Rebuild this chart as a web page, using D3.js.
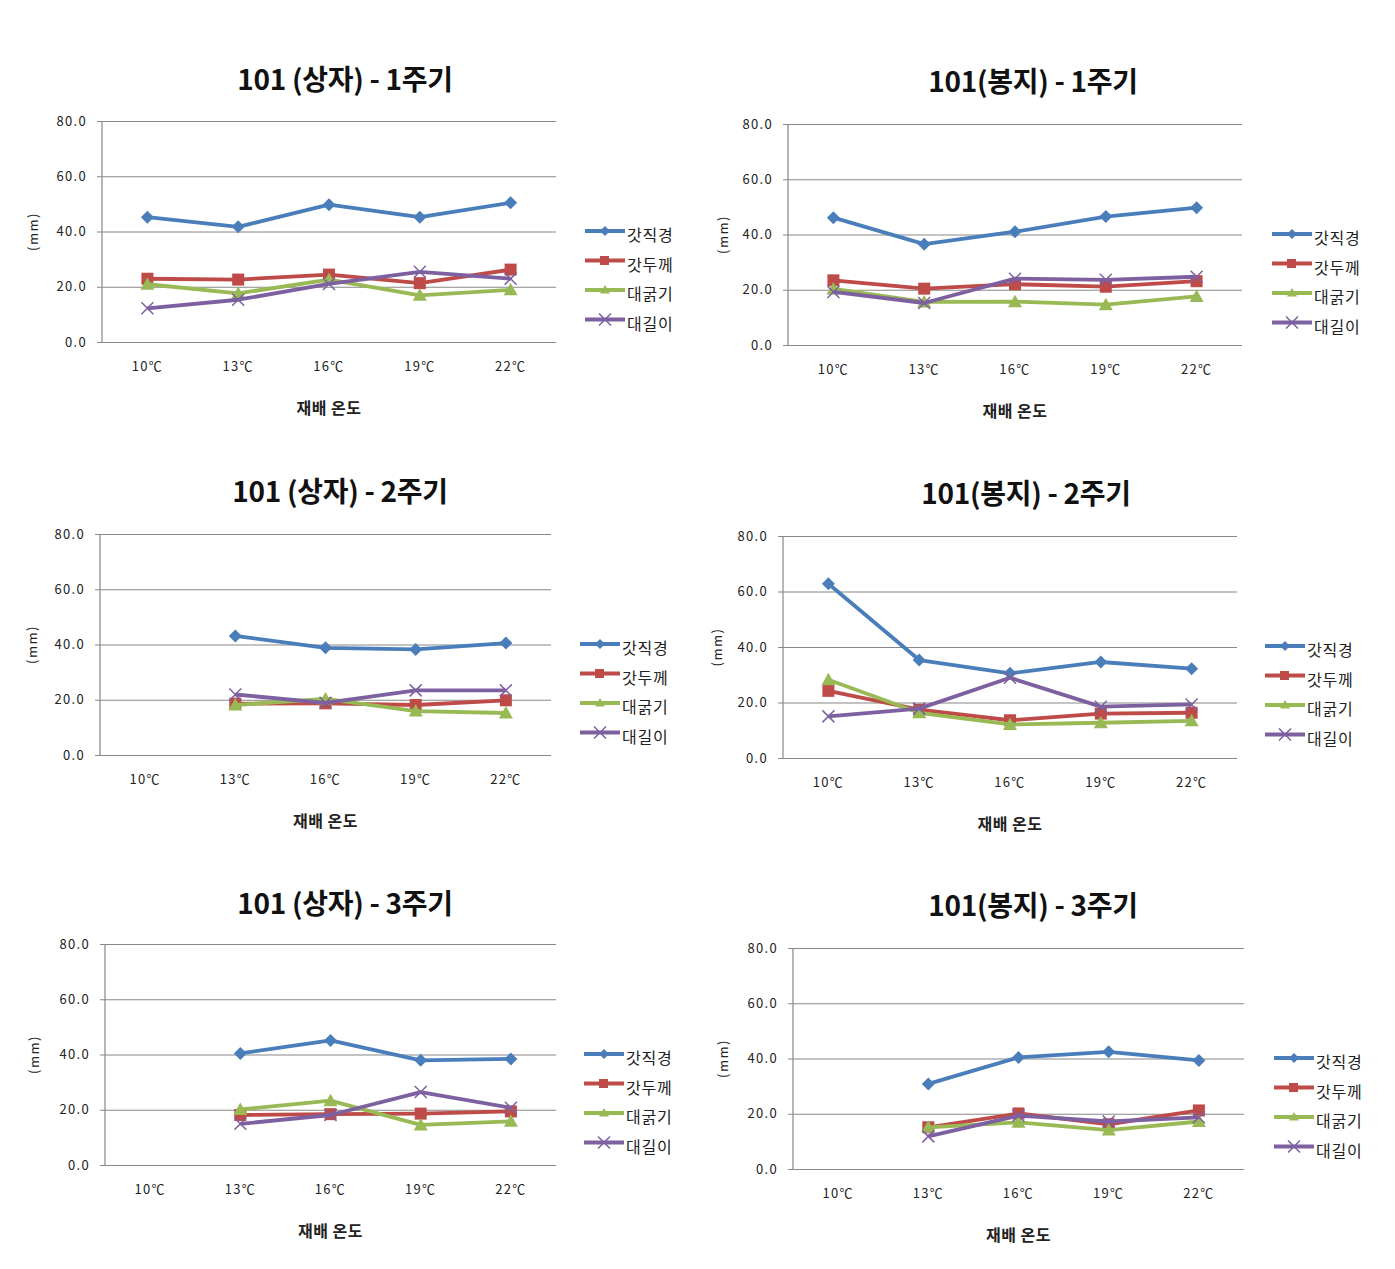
<!DOCTYPE html>
<html><head><meta charset="utf-8">
<script src="https://cdn.jsdelivr.net/npm/d3@7"></script>
<style>
body{margin:0;background:#fff;}
svg{display:block;}
text{font-family:"Noto Sans CJK KR","Noto Sans",sans-serif;}
</style></head>
<body>
<svg id="c" width="1395" height="1269"></svg>
<script>
const categories = ["10℃","13℃","16℃","19℃","22℃"];
const seriesNames = ["갓직경","갓두께","대굵기","대길이"];
const yTicks = [0,20,40,60,80];
const panelTitles = ["101 (상자) - 1주기","101(봉지) - 1주기","101 (상자) - 2주기","101(봉지) - 2주기","101 (상자) - 3주기","101(봉지) - 3주기"];
const xTitle = "재배 온도";
const yTitle = "(mm)";

// values per panel: [갓직경, 갓두께, 대굵기, 대길이]
const sangja1 = [
  [45.2, 41.7, 49.7, 45.2, 50.4],
  [22.9, 22.6, 24.4, 21.3, 26.2],
  [20.9, 17.6, 22.6, 16.9, 18.9],
  [12.2, 15.3, 21.0, 25.4, 22.9]
];
const bongji1 = [
  [46.1, 36.5, 41.0, 46.5, 49.7],
  [23.4, 20.4, 22.0, 21.1, 23.1],
  [20.3, 15.6, 15.7, 14.6, 17.6],
  [19.2, 15.2, 24.0, 23.6, 24.7]
];
const sangja2 = [
  [null, 43.1, 38.8, 38.2, 40.5],
  [null, 18.6, 18.7, 18.1, 19.8],
  [null, 18.1, 20.3, 15.9, 15.2],
  [null, 21.9, 18.9, 23.4, 23.4]
];
const bongji2 = [
  [62.8, 35.3, 30.5, 34.6, 32.2],
  [24.2, 17.4, 13.6, 16.0, 16.3],
  [28.2, 16.3, 12.1, 12.7, 13.4],
  [15.0, 17.8, 28.9, 18.5, 19.3]
];
const sangja3 = [
  [null, 40.4, 45.1, 37.9, 38.4],
  [null, 18.1, 18.4, 18.6, 19.4],
  [null, 20.1, 23.3, 14.5, 15.8],
  [null, 14.9, 18.1, 26.4, 20.7]
];
const bongji3 = [
  [null, 30.8, 40.4, 42.4, 39.3],
  [null, 15.1, 20.1, 16.2, 21.2],
  [null, 15.1, 16.9, 14.1, 17.2],
  [null, 11.8, 19.3, 17.2, 18.7]
];
const panelData = [sangja1, bongji1, sangja2, bongji2, sangja3, bongji3];

const colors = ["#4A7EBB","#BE4B48","#98B954","#7D60A0"];
const markerTypes = ["diamond","square","triangle","x"];

const layouts = [
  {l:102,r:556,t:121,b:342,tx:345,ty:78,lx:585,ly:231,yl:32},
  {l:788,r:1242,t:124,b:345,tx:1033,ty:80,lx:1272,ly:234,yl:722},
  {l:100,r:551,t:534,b:755,tx:340,ty:490,lx:580,ly:644,yl:31},
  {l:783,r:1237,t:536,b:758,tx:1026,ty:492,lx:1265,ly:646,yl:716},
  {l:105,r:556,t:944,b:1165,tx:345,ty:902,lx:584,ly:1054,yl:33},
  {l:793,r:1244,t:948,b:1169,tx:1033,ty:904,lx:1274,ly:1058,yl:722}
];

const svg = d3.select("#c");

function drawMarker(g, type, x, y, color){
  if(type==="diamond"){
    g.append("path").attr("d",`M${x},${y-6.5}L${x+6.5},${y}L${x},${y+6.5}L${x-6.5},${y}Z`).attr("fill",color);
  } else if(type==="square"){
    g.append("rect").attr("x",x-6).attr("y",y-6).attr("width",12).attr("height",12).attr("fill",color);
  } else if(type==="triangle"){
    g.append("path").attr("d",`M${x},${y-7}L${x+7},${y+5.5}L${x-7},${y+5.5}Z`).attr("fill",color);
  } else {
    g.append("path").attr("d",`M${x-6},${y-6}L${x+6},${y+6}M${x+6},${y-6}L${x-6},${y+6}`).attr("stroke",color).attr("stroke-width",1.5).attr("fill","none");
  }
}

layouts.forEach((L, pi) => {
  const data = panelData[pi];
  const g = svg.append("g");
  const x = d3.scaleBand().domain(categories).range([L.l, L.r]);
  const y = d3.scaleLinear().domain([0,80]).range([L.b, L.t]);

  // title
  g.append("text").attr("x",L.tx).attr("y",L.ty).attr("text-anchor","middle").attr("dominant-baseline","central")
    .attr("font-size",28).attr("font-weight","bold").attr("fill","#111").attr("letter-spacing","-0.3").text(panelTitles[pi]);

  // gridlines + y axis
  const yAxis = d3.axisLeft(y).tickValues(yTicks).tickSize(-(L.r-L.l)).tickPadding(15).tickFormat(d3.format(".1f"));
  const ya = g.append("g").attr("transform",`translate(${L.l},0)`).call(yAxis);
  ya.select(".domain").attr("stroke","#888").attr("stroke-width",1.2).attr("d",`M0,${L.t}V${L.b}`);
  ya.selectAll(".tick line").attr("stroke","#888").attr("stroke-width",1.2).attr("x1",-5);
  ya.selectAll(".tick text").attr("font-size",13).attr("fill","#222").attr("letter-spacing","1.3").attr("font-family","'DejaVu Sans',sans-serif");

  // x axis labels
  const xAxis = d3.axisBottom(x).tickSize(0).tickPadding(20);
  const xa = g.append("g").attr("transform",`translate(0,${L.b})`).call(xAxis);
  xa.select(".domain").remove();
  xa.selectAll(".tick text").attr("font-size",13).attr("fill","#222").attr("letter-spacing","1.3").attr("font-family","'DejaVu Sans',sans-serif");

  // axis titles
  g.append("text").attr("x", x(categories[2]) + x.bandwidth()/2).attr("y",L.b+65).attr("text-anchor","middle").attr("dominant-baseline","central")
    .attr("font-size",16).attr("font-weight","bold").attr("letter-spacing","0.5").attr("fill","#222").text(xTitle);
  g.append("text").attr("transform",`translate(${L.yl},${(L.t+L.b)/2}) rotate(-90)`).attr("text-anchor","middle").attr("dominant-baseline","central")
    .attr("font-size",13).attr("fill","#222").attr("letter-spacing","1.5").text(yTitle);

  // series
  const cx = c => x(c) + x.bandwidth()/2;
  data.forEach((vals, si) => {
    const pts = categories.map((c,i)=>({c, v: vals[i]}));
    const line = d3.line().defined(d=>d.v!==null).x(d=>cx(d.c)).y(d=>y(d.v));
    g.append("path").datum(pts).attr("d",line).attr("fill","none").attr("stroke",colors[si]).attr("stroke-width",3.8).attr("stroke-linejoin","round");
    const mg = g.append("g");
    pts.filter(d=>d.v!==null).forEach(d=>drawMarker(mg, markerTypes[si], cx(d.c), y(d.v), colors[si]));
  });

  // legend
  seriesNames.forEach((name, si) => {
    const ly = L.ly + si*29.5;
    g.append("line").attr("x1",L.lx).attr("x2",L.lx+40).attr("y1",ly).attr("y2",ly).attr("stroke",colors[si]).attr("stroke-width",3.8);
    const lg = g.append("g");
    if(markerTypes[si]==="x"){
      drawMarker(lg, "x", L.lx+20, ly, colors[si]);
    } else if(markerTypes[si]==="square"){
      lg.append("rect").attr("x",L.lx+15).attr("y",ly-4.5).attr("width",9).attr("height",9).attr("fill",colors[si]);
    } else if(markerTypes[si]==="diamond"){
      lg.append("path").attr("d",`M${L.lx+20},${ly-5}L${L.lx+25},${ly}L${L.lx+20},${ly+5}L${L.lx+15},${ly}Z`).attr("fill",colors[si]);
    } else {
      lg.append("path").attr("d",`M${L.lx+20},${ly-5}L${L.lx+25},${ly+3.5}L${L.lx+15},${ly+3.5}Z`).attr("fill",colors[si]);
    }
    g.append("text").attr("x",L.lx+42).attr("y",ly+3).attr("dominant-baseline","central")
      .attr("font-size",16).attr("letter-spacing","0.8").attr("fill","#222").text(name);
  });
});
</script>
</body></html>
